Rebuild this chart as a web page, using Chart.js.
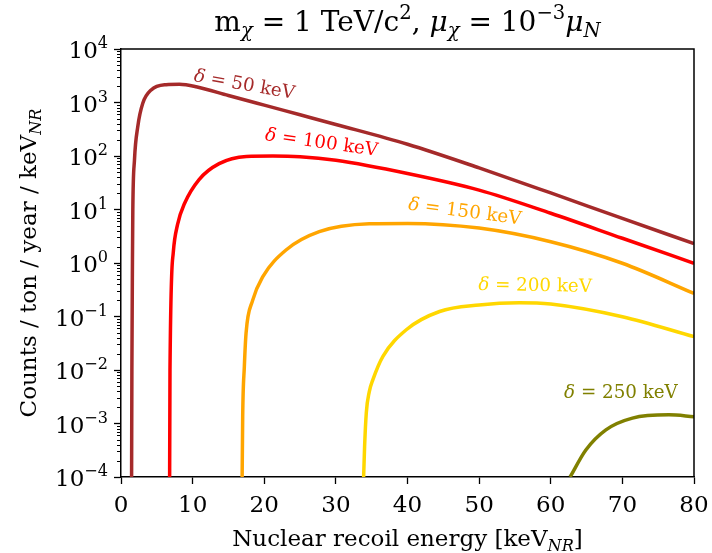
<!DOCTYPE html>
<html>
<head>
<meta charset="utf-8">
<script src="https://cdn.jsdelivr.net/npm/chart.js@4.4.1/dist/chart.umd.min.js"></script>
<style>
  body { margin: 0; background: #fff; }
  canvas { display: block; }
</style>
</head>
<body>
<canvas id="rate" width="712" height="553"></canvas>
<script>
// recoil energy [keV_NR] and rate [counts/ton/year/keV_NR]
var e50 = [1.46, 1.52, 1.6, 1.65, 1.88, 2.34, 3.04, 4.21, 6.3, 8.16, 10.5, 15, 20, 25, 30, 40, 50, 60, 70, 80];
var r50 = [1e-5, 0.01, 1.15, 9.8, 84, 353, 966, 1714, 2150, 2190, 1972, 1350, 891, 589, 389, 166, 60, 20.4, 6.8, 2.3];

var e100 = [6.77, 6.84, 7.3, 7.9, 8.9, 10.9, 13.7, 17.5, 21.2, 25, 30, 40, 50, 60, 70, 80];
var r100 = [1e-5, 0.01, 1.58, 5.25, 13.2, 36.3, 72, 98, 100, 97, 83, 47, 23, 8.5, 2.9, 0.99];

var e150 = [16.85, 16.99, 17.22, 17.46, 18.38, 19.78, 23.04, 27.68, 34.66, 40, 50, 60, 70, 80];
var r150 = [1e-5, 0.00135, 0.0115, 0.049, 0.2, 0.55, 1.75, 3.85, 5.4, 5.5, 4.5, 2.5, 0.99, 0.27];

var e200 = [33.64, 34.01, 34.25, 34.66, 35.17, 36.57, 39.83, 44.48, 50, 55.58, 60, 70, 80];
var r200 = [1e-5, 0.00037, 0.0016, 0.0039, 0.0066, 0.018, 0.0566, 0.124, 0.164, 0.181, 0.171, 0.099, 0.042];

var e250 = [62.7, 64.9, 67.7, 71.4, 76.5, 80];
var r250 = [1e-4, 0.00032, 0.00076, 0.00126, 0.00145, 0.00134];

var deltas = [50, 100, 150, 200, 250];
var colors = ['#a52a2a', '#ff0000', '#ffa500', '#ffd700', '#808000'];

var xTicks = [0, 10, 20, 30, 40, 50, 60, 70, 80];
var yExponents = [-4, -3, -2, -1, 0, 1, 2, 3, 4];

// where the curve labels sit (data coords) and their tilt in degrees
var labelAt = [[17.1, 2220, 10], [27.9, 183, 8], [47.9, 9.4, 7.5], [57.8, 0.39, 1], [69.8, 0.0039, 0]];

var SERIF = '"DejaVu Serif", serif';

function pts(xs, ys) {
  return xs.map(function (x, i) { return { x: x, y: ys[i] }; });
}

// draws text made of pieces, some of them sub/superscript or italic
function drawRich(ctx, segs, x, y, size, rot, align) {
  function fontOf(s) {
    var sz = (s.sub || s.sup) ? size * 0.7 : size;
    return (s.it ? 'italic ' : '') + sz + 'px ' + SERIF;
  }
  var total = 0;
  segs.forEach(function (s) { ctx.font = fontOf(s); s.w = ctx.measureText(s.t).width; total += s.w; });
  ctx.save();
  ctx.translate(x, y);
  ctx.rotate(rot || 0);
  ctx.textBaseline = 'alphabetic';
  ctx.textAlign = 'left';
  var cx = align === 'right' ? -total : -total / 2;
  segs.forEach(function (s) {
    ctx.font = fontOf(s);
    var dy = s.sub ? size * 0.22 : (s.sup ? -size * 0.42 : 0);
    ctx.fillText(s.t, cx, dy);
    cx += s.w;
  });
  ctx.restore();
}

var titleSegs = [
  { t: 'm' }, { t: '\u03C7', sub: true, it: true }, { t: ' = 1 TeV/c' }, { t: '2', sup: true },
  { t: ', ' }, { t: '\u03BC', it: true }, { t: '\u03C7', sub: true, it: true }, { t: ' = 10' },
  { t: '\u22123', sup: true }, { t: '\u03BC', it: true }, { t: 'N', sub: true, it: true }
];
var xTitleSegs = [{ t: 'Nuclear recoil energy [keV' }, { t: 'NR', sub: true, it: true }, { t: ']' }];
var yTitleSegs = [{ t: 'Counts / ton / year / keV' }, { t: 'NR', sub: true, it: true }];

var decor = {
  id: 'decor',
  afterDraw: function (chart) {
    var ctx = chart.ctx;
    var a = chart.chartArea;
    var xs = chart.scales.x;
    var ys = chart.scales.y;

    ctx.save();
    ctx.strokeStyle = '#000';
    ctx.lineWidth = 1.5;
    ctx.beginPath();
    ctx.moveTo(a.left, a.top);
    ctx.lineTo(a.right, a.top);
    ctx.lineTo(a.right, a.bottom);
    ctx.stroke();

    // minor log ticks
    ctx.lineWidth = 1;
    ys.ticks.forEach(function (t) {
      if (t.major) return;
      var py = Math.round(ys.getPixelForValue(t.value)) + 0.5;
      ctx.beginPath();
      ctx.moveTo(a.left - 4, py);
      ctx.lineTo(a.left, py);
      ctx.stroke();
    });
    ctx.restore();

    ctx.fillStyle = '#000';
    // tick labels
    xTicks.forEach(function (v) {
      drawRich(ctx, [{ t: String(v) }], xs.getPixelForValue(v), 512, 23);
    });
    yExponents.forEach(function (e) {
      var lab = e < 0 ? '\u2212' + (-e) : String(e);
      drawRich(ctx, [{ t: '10' }, { t: lab, sup: true }], a.left - 13, ys.getPixelForValue(Math.pow(10, e)) + 9, 23, 0, 'right');
    });

    drawRich(ctx, titleSegs, (a.left + a.right) / 2, 31, 28);
    drawRich(ctx, xTitleSegs, (a.left + a.right) / 2, 546, 23);
    drawRich(ctx, yTitleSegs, 36, (a.top + a.bottom) / 2, 23, -Math.PI / 2);

    deltas.forEach(function (d, i) {
      var p = labelAt[i];
      ctx.fillStyle = colors[i];
      drawRich(ctx, [{ t: '\u03B4', it: true }, { t: ' = ' + d + ' keV' }],
        xs.getPixelForValue(p[0]), ys.getPixelForValue(p[1]) + 6, 18.3, p[2] * Math.PI / 180);
    });
  }
};

var series = [pts(e50, r50), pts(e100, r100), pts(e150, r150), pts(e200, r200), pts(e250, r250)];

new Chart(document.getElementById('rate').getContext('2d'), {
  type: 'line',
  data: {
    datasets: series.map(function (s, i) {
      return {
        label: '\u03B4 = ' + deltas[i] + ' keV',
        data: s,
        borderColor: colors[i],
        borderWidth: 3.5,
        pointRadius: 0,
        fill: false,
        cubicInterpolationMode: 'monotone'
      };
    })
  },
  options: {
    responsive: false,
    animation: false,
    layout: { padding: { top: 49, right: 18, left: 0, bottom: 0 } },
    plugins: { legend: { display: false }, title: { display: false }, tooltip: { enabled: false } },
    scales: {
      x: {
        type: 'linear',
        min: 0,
        max: 80,
        afterBuildTicks: function (scale) {
          scale.ticks = xTicks.map(function (v) { return { value: v }; });
        },
        afterFit: function (scale) { scale.height = 76; },
        grid: { display: true, drawOnChartArea: false, drawTicks: true, tickLength: 7, tickColor: '#000', tickWidth: 1.3 },
        border: { display: true, color: '#000', width: 1.5 },
        ticks: { display: false }
      },
      y: {
        type: 'logarithmic',
        min: 1e-4,
        max: 1e4,
        afterBuildTicks: function (scale) {
          var t = [];
          yExponents.forEach(function (e) {
            t.push({ value: Math.pow(10, e), major: true });
            if (e < 4) {
              for (var m = 2; m < 10; m++) t.push({ value: m * Math.pow(10, e), major: false });
            }
          });
          scale.ticks = t;
        },
        afterFit: function (scale) { scale.width = 121; },
        grid: {
          display: true, drawOnChartArea: false, drawTicks: true, tickLength: 7, tickWidth: 1.3,
          tickColor: function (c) { return c.tick && c.tick.major ? '#000' : 'rgba(0,0,0,0)'; }
        },
        border: { display: true, color: '#000', width: 1.5 },
        ticks: { display: false }
      }
    }
  },
  plugins: [decor]
});
</script>
</body>
</html>
